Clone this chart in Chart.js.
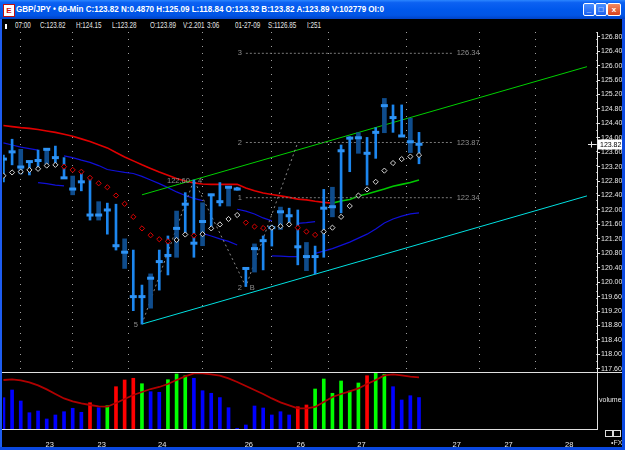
<!DOCTYPE html>
<html lang="en">
<head>
<meta charset="UTF-8">
<title>GBP/JPY - 60-Min</title>
<script src="https://cdn.jsdelivr.net/npm/chart.js"></script>
<style>
  html, body { margin: 0; padding: 0; background: #000; }
  .win { position: relative; width: 625px; height: 450px; background: #000; overflow: hidden;
         font-family: "Liberation Sans", sans-serif; }
  .titlebar { position: absolute; left: 0; top: 0; width: 625px; height: 19px;
              background: linear-gradient(#2b86ff 0%, #0c61f2 14%, #0058ec 50%, #0155e6 80%, #0042c6 100%); }
  .icon { position: absolute; left: 3px; top: 4px; width: 10px; height: 11px; background: #fff;
          border: 1px solid #c01010; font: bold 8px "Liberation Sans"; color: #d01010; line-height: 11px; text-align: center; }
  #title { position: absolute; left: 16px; top: 4px; color: #fff; font: bold 9px "Liberation Sans", sans-serif;
           white-space: nowrap; transform-origin: 0 0; line-height: 11px; }
  .btn { position: absolute; top: 3px; width: 10px; height: 11px; border: 1px solid #fff; border-radius: 2px;
         background: linear-gradient(#4a90ff, #1a5ff0); color: #fff; font: bold 8px "Liberation Sans"; text-align: center; line-height: 11px; }
  .btn.close { background: linear-gradient(#f08a60, #d8411c); width: 12px; }
  .bl { position: absolute; left: 0; top: 19px; width: 2px; height: 431px; background: #1d5cf0; z-index: 5; }
  .br { position: absolute; right: 0; top: 19px; width: 3px; height: 431px; background: #0a48e0; z-index: 5; }
  .bb { position: absolute; left: 0; bottom: 0; width: 625px; height: 3px; background: #0a48e0; z-index: 5; }
  .hdr { position: absolute; top: 20px; color: #e4e4e4; font-size: 9px; line-height: 10px; white-space: nowrap;
         transform: scaleX(0.7); transform-origin: 0 0; }
  .mark { position: absolute; left: 5px; top: 24px; width: 2px; height: 5px; background: #fff; }
  #price { position: absolute; left: 0; top: 20px; }
  #vol { position: absolute; left: 0; top: 372px; }
  .sq { position: absolute; top: 430px; width: 6px; height: 5px; border: 1px solid #dcdcdc; }
  .fx { position: absolute; left: 611px; top: 439px; color: #dcdcdc; font-size: 7px; }
</style>
</head>
<body>
<div class="win">
  <div class="titlebar">
    <div class="icon">E</div>
    <div id="title">GBP/JPY • 60-Min C:123.82 N:0.4870 H:125.09 L:118.84 O:123.32 B:123.82 A:123.89 V:102779 OI:0</div>
    <div class="btn" style="left:583px">_</div>
    <div class="btn" style="left:595px">□</div>
    <div class="btn close" style="left:607px">x</div>
  </div>
  <div class="mark"></div>
  <span class="hdr" style="left:15px">07:00</span>
  <span class="hdr" style="left:40px">C:123.82</span>
  <span class="hdr" style="left:76px">H:124.15</span>
  <span class="hdr" style="left:112px">L:123.28</span>
  <span class="hdr" style="left:150px">O:123.89</span>
  <span class="hdr" style="left:183px">V:2.201</span>
  <span class="hdr" style="left:207px">3:06</span>
  <span class="hdr" style="left:235px">01-27-09</span>
  <span class="hdr" style="left:268px">S:1126.85</span>
  <span class="hdr" style="left:307px">I:251</span>
  <canvas id="price" width="622" height="352"></canvas>
  <canvas id="vol" width="622" height="75"></canvas>
  <div class="sq" style="left:605px"></div>
  <div class="sq" style="left:613px"></div>
  <span class="fx">•FX</span>
  <div class="bl"></div><div class="br"></div><div class="bb"></div>
</div>

<script>
// ---- data (one entry per 60-min bar) ----
const highs = [123.52,123.96,123.68,123.36,123.66,123.69,123.77,123.45,122.94,123.09,122.92,122.23,122.19,122.16,121.20,120.89,119.92,120.23,120.89,121.28,121.97,122.48,122.83,122.20,122.44,122.76,122.63,122.63,120.38,121.06,121.28,121.58,122.08,122.05,122.00,121.10,121.00,122.57,122.63,123.80,124.03,124.14,124.01,124.28,125.09,124.91,124.91,124.54,124.15];
const lows = [122.78,123.25,123.00,122.97,123.11,123.27,123.29,122.88,122.42,122.53,121.72,121.72,121.33,120.89,120.38,119.21,118.84,119.28,119.78,120.20,120.69,121.31,120.69,121.01,121.49,122.11,122.11,122.55,119.88,120.28,120.34,121.00,121.46,121.58,120.48,120.32,120.23,120.69,121.81,121.92,123.06,123.57,122.69,123.43,124.14,124.15,124.05,123.59,123.28];
const closes = [123.41,123.61,123.19,123.34,123.37,123.68,123.45,122.89,122.58,122.78,121.86,121.86,122.00,121.01,120.83,119.60,119.60,120.11,120.57,120.74,121.49,122.16,121.08,121.68,122.42,122.23,122.63,122.58,120.38,120.93,121.15,121.51,121.95,121.84,120.98,120.71,120.71,122.05,122.09,123.64,123.99,124.00,123.57,124.15,124.89,124.56,124.05,123.89,123.82];
const sar = [122.95,123.04,123.06,123.11,123.14,123.23,123.25,123.20,123.11,123.06,122.89,122.74,122.63,122.40,122.17,121.81,121.49,121.30,121.19,121.13,121.17,121.32,121.29,121.33,121.49,121.60,121.75,121.86,121.65,121.54,121.50,121.51,121.55,121.60,121.51,121.40,121.31,121.40,121.51,121.81,122.11,122.40,122.57,122.78,123.09,123.30,123.41,123.48,123.52];
const sarSide = 'wwwwwwwrrrrrrrrrrrrrwwrwwwwwrrrwwwrrrwwwwwwwwwwww';
const ma = [124.34,124.31,124.28,124.26,124.23,124.19,124.15,124.10,124.04,123.97,123.90,123.81,123.72,123.59,123.47,123.36,123.25,123.15,123.05,122.96,122.87,122.80,122.75,122.72,122.71,122.71,122.71,122.71,122.61,122.53,122.47,122.43,122.39,122.35,122.30,122.28,122.24,122.21,122.19,122.25,122.29,122.39,122.44,122.51,122.58,122.66,122.71,122.76,122.83];
const maTurn = 38;
const bandUpper = [123.86,123.80,123.74,123.70,123.66,null,null,123.50,123.45,123.38,123.32,123.23,123.12,123.08,123.04,123.01,122.93,122.83,122.73,122.62,122.50,122.40,122.32,122.26,null,null,null,122.02,121.97,121.89,121.78,121.70,null,null,121.63,121.65,121.68,null,null,null,null,null,null,null,null,null,null,null,null];
const bandLower = [null,null,null,null,122.76,122.73,122.69,122.67,null,null,null,null,null,null,null,null,null,null,null,null,null,null,null,121.35,121.28,121.20,121.13,121.03,null,null,null,120.73,120.72,120.71,120.71,null,120.80,120.86,120.93,121.02,121.11,121.22,121.33,121.47,121.64,121.75,121.83,121.89,121.92];
const vol = [2190,2730,1960,1140,1260,700,980,1210,1450,1170,1840,1490,1630,2960,3430,3550,3170,2610,2570,3450,3850,3730,3550,2680,2500,2200,1490,50,280,1610,1470,980,1210,980,1560,1680,2800,3500,2500,3360,2660,3220,3730,3940,3830,2960,2030,2330,2201];
const volKind = 'bbbbbbbbbbrbgrrrgbbgggbbbbbbbbbbbbrrggggggrggbbbb';
const volMA = [3430,3480,3400,3260,3050,2770,2450,2140,1930,1790,1680,1580,1560,1820,2100,2380,2590,2800,2940,3150,3430,3680,3890,3890,3820,3730,3540,3290,3010,2730,2450,2140,1860,1650,1450,1440,1540,1890,2240,2450,2630,2840,3150,3430,3750,3820,3750,3660,3620];

const channelX = [16, 67.4];
const channelUpper = [122.42, 125.97];
const channelLower = [118.84, 122.39];
const zigX = [16, 22, 28, 34];
const zigY = [118.84, 122.83, 119.88, 123.87];
const zigLeft = ['5', '122.60', '2', ''];
const zigRight = ['', '4', 'B', ''];
const fibLevels = [126.34, 123.87, 122.34];
const fibNames = ['3', '2', '1'];
const fibFrom = 28, fibTo = 52;
const lastPrice = 123.82;

const priceTicks = [117.6,118.0,118.4,118.8,119.2,119.6,120.0,120.4,120.8,121.2,121.6,122.0,122.4,122.8,123.2,123.6,124.0,124.4,124.8,125.2,125.6,126.0,126.4,126.8];
const dayTicks = [5, 11, 18, 28, 34, 41, 52, 58, 65];
const dayLabels = ['23', '23', '24', '26', '26', '27', '27', '27', '28'];

const xMin = -0.05, xMax = 68.56;
const yMin = 117.512, yMax = 126.93;
const volMax = 3990;

// fit the title bar text to its width
const t = document.getElementById('title');
t.style.transform = 'scaleX(' + (368 / t.getBoundingClientRect().width) + ')';

Chart.defaults.font.family = '"Liberation Sans", sans-serif';
Chart.defaults.font.size = 7;
Chart.defaults.color = '#e6e6e6';
Chart.defaults.animation = false;
Chart.defaults.plugins.legend.display = false;
Chart.defaults.plugins.tooltip.enabled = false;

const idx = highs.map((_, i) => i);
const pts = arr => arr.map((v, i) => ({ x: i, y: v }));
const lineDs = (data, color, width, extra) => Object.assign({
  data: data, borderColor: color, borderWidth: width, pointRadius: 0, tension: 0, spanGaps: false
}, extra || {});

const priceNotes = {
  id: 'priceNotes',
  afterDraw(chart) {
    const { ctx, scales: { x, y } } = chart;
    ctx.save();
    ctx.font = '7.5px "Liberation Sans", sans-serif';
    ctx.textBaseline = 'middle';
    ctx.fillStyle = '#8e8e8e';
    fibLevels.forEach((v, k) => {
      const py = y.getPixelForValue(v);
      ctx.textAlign = 'right';
      ctx.fillText(fibNames[k], x.getPixelForValue(fibFrom) - 4, py);
      ctx.textAlign = 'left';
      ctx.fillText(v.toFixed(2), x.getPixelForValue(fibTo) + 3, py);
    });
    zigX.forEach((v, k) => {
      const px = x.getPixelForValue(v), py = y.getPixelForValue(zigY[k]) + 1;
      ctx.textAlign = 'right';
      ctx.fillText(zigLeft[k], px - 4, py);
      ctx.textAlign = 'left';
      ctx.fillText(zigRight[k], px + 4, py);
    });
    // last price marker and box on the axis
    const cy = Math.round(y.getPixelForValue(lastPrice)) + 0.5;
    const ax = y.left;
    ctx.strokeStyle = '#e8e8e8';
    ctx.lineWidth = 1;
    ctx.beginPath();
    ctx.moveTo(ax - 9, cy); ctx.lineTo(ax - 1, cy);
    ctx.moveTo(ax - 5.5, cy - 3); ctx.lineTo(ax - 5.5, cy + 3);
    ctx.stroke();
    ctx.fillStyle = '#fff';
    ctx.fillRect(ax + 1, cy - 5, 25, 10);
    ctx.fillStyle = '#000';
    ctx.font = '7px "Liberation Sans", sans-serif';
    ctx.textAlign = 'left';
    ctx.fillText(lastPrice.toFixed(2), ax + 3, cy + 0.5);
    ctx.restore();
  }
};

new Chart(document.getElementById('price'), {
  type: 'line',
  data: {
    datasets: [
      { data: pts(sar), showLine: false, pointStyle: 'rectRot', pointRadius: 2.6, pointBorderWidth: 1,
        pointBackgroundColor: '#000', pointBorderColor: sarSide.split('').map(s => s === 'w' ? '#d4d4d4' : '#e00000'), order: 0 },
      { data: pts(closes), showLine: false, pointStyle: 'line', pointRadius: 3.5, pointBorderWidth: 3,
        pointBorderColor: '#2e93f5', order: 1 },
      { type: 'bar', data: idx.filter(i => i % 3 !== 2).map(i => ({ x: i, y: [lows[i], highs[i]] })),
        backgroundColor: '#1c86ee', barThickness: 2, grouped: false, order: 2 },
      { type: 'bar', data: idx.filter(i => i % 3 === 2).map(i => ({ x: i, y: [lows[i], highs[i]] })),
        backgroundColor: '#0f4c8c', barThickness: 4, grouped: false, order: 3 },
      lineDs(zigX.map((v, k) => ({ x: v, y: zigY[k] })), '#8a8a8a', 1, { borderDash: [2, 3], order: 4 }),
      ...fibLevels.map(v => lineDs([{ x: fibFrom, y: v }, { x: fibTo, y: v }], '#7a7a7a', 1, { borderDash: [2, 2], order: 5 })),
      lineDs(channelX.map((v, k) => ({ x: v, y: channelUpper[k] })), '#00d000', 1, { order: 6 }),
      lineDs(channelX.map((v, k) => ({ x: v, y: channelLower[k] })), '#00e0e0', 1, { order: 6 }),
      lineDs(pts(ma).slice(0, maTurn + 1), '#e00000', 1.6, { order: 7 }),
      lineDs(pts(ma).slice(maTurn), '#00c800', 1.6, { order: 7 }),
      lineDs(pts(bandUpper), '#1010d8', 1.2, { order: 8 }),
      lineDs(pts(bandLower), '#1010d8', 1.2, { order: 8 })
    ]
  },
  options: {
    responsive: false,
    events: [],
    layout: { autoPadding: false, padding: { left: 3, top: 12, right: 0, bottom: 0 } },
    scales: {
      x: {
        type: 'linear', min: xMin, max: xMax, offset: false,
        afterBuildTicks: s => { s.ticks = dayTicks.map(v => ({ value: v })); },
        afterFit: s => { s.height = 0; s.paddingLeft = 0; s.paddingRight = 0; },
        ticks: { display: false },
        grid: { color: '#a0a0a0', drawTicks: false, lineWidth: 1 },
        border: { display: false, dash: [1, 6] }
      },
      y: {
        type: 'linear', position: 'right', min: yMin, max: yMax,
        afterBuildTicks: s => { s.ticks = priceTicks.map(v => ({ value: v })); },
        afterFit: s => { s.width = 25; s.paddingTop = 0; s.paddingBottom = 0; },
        ticks: { autoSkip: false, padding: 1, color: '#e8e8e8', callback: v => v.toFixed(2) },
        grid: { drawOnChartArea: false, drawTicks: true, tickLength: 3, color: '#e8e8e8' },
        border: { display: true, color: '#e8e8e8' }
      }
    }
  },
  plugins: [priceNotes]
});

const volColor = { b: '#0000ff', r: '#ff0000', g: '#00ff00' };
const panelLine = {
  id: 'panelLine',
  afterDraw(chart) {
    const { ctx, chartArea } = chart;
    ctx.save();
    ctx.strokeStyle = '#e0e0e0';
    ctx.lineWidth = 1;
    ctx.beginPath();
    ctx.moveTo(0, chartArea.top + 0.5); ctx.lineTo(chart.width, chartArea.top + 0.5);
    ctx.moveTo(0, chartArea.bottom + 0.5); ctx.lineTo(chartArea.right, chartArea.bottom + 0.5);
    ctx.stroke();
    ctx.restore();
  }
};

new Chart(document.getElementById('vol'), {
  type: 'line',
  data: {
    datasets: [
      lineDs(pts(volMA), '#b00000', 1.8, { order: 0 }),
      { type: 'bar', data: pts(vol), backgroundColor: volKind.split('').map(k => volColor[k]),
        barThickness: 3, grouped: false, order: 1 }
    ]
  },
  options: {
    responsive: false,
    events: [],
    layout: { autoPadding: false, padding: { left: 3, top: 0, right: 0, bottom: 0 } },
    scales: {
      x: {
        type: 'linear', min: xMin, max: xMax, offset: false,
        afterBuildTicks: s => { s.ticks = dayTicks.map(v => ({ value: v })); },
        afterFit: s => { s.height = 18; s.paddingLeft = 0; s.paddingRight = 0; },
        ticks: { autoSkip: false, maxRotation: 0, padding: 3, labelOffset: 3, color: '#e8e8e8',
                 font: { size: 7.5 }, callback: (v, k) => dayLabels[k] },
        grid: { display: false },
        border: { display: true, color: '#e0e0e0' }
      },
      y: {
        type: 'linear', position: 'right', min: 0, max: volMax,
        afterBuildTicks: s => { s.ticks = [{ value: volMax / 2 }]; },
        afterFit: s => { s.width = 25; s.paddingTop = 0; s.paddingBottom = 0; },
        ticks: { padding: 2, color: '#e8e8e8', callback: () => 'volume' },
        grid: { drawOnChartArea: false, drawTicks: false },
        border: { display: true, color: '#e0e0e0' }
      }
    }
  },
  plugins: [panelLine]
});
</script>
</body>
</html>
